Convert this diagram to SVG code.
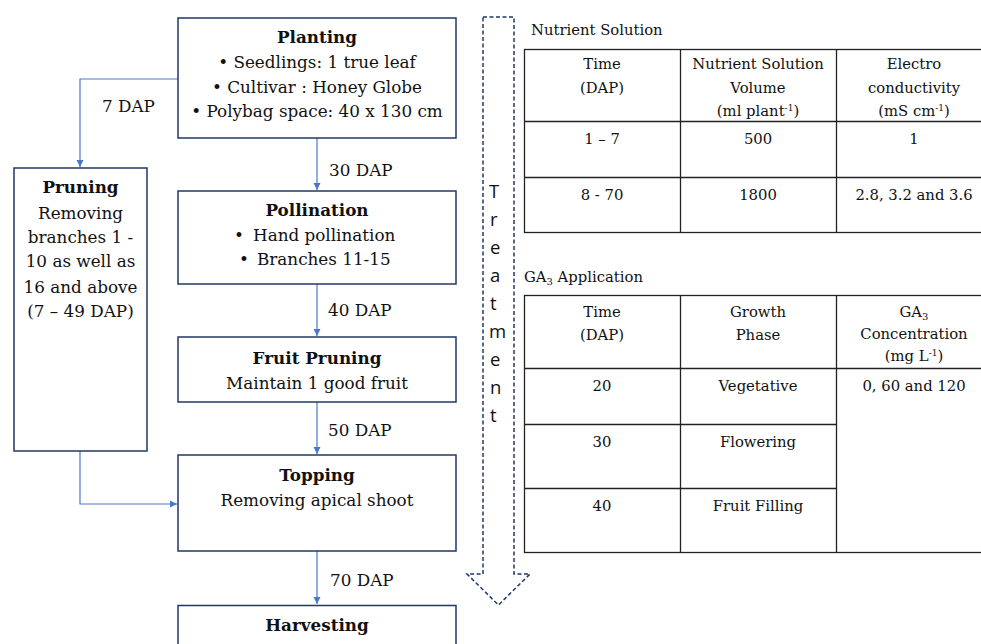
<svg xmlns="http://www.w3.org/2000/svg" width="981" height="644" viewBox="0 0 981 644">
<style>
.box{fill:#fff;stroke:#1f3864;stroke-width:1.5}
.conn{fill:none;stroke:#4a78c8;stroke-width:1.2}
.t{font-family:"DejaVu Serif","Liberation Serif",serif;font-size:16.8px;fill:#111;text-anchor:middle}
.tl{font-family:"DejaVu Serif","Liberation Serif",serif;font-size:16.8px;fill:#111}
.b{font-weight:bold}
.tab{font-family:"DejaVu Serif","Liberation Serif",serif;font-size:14.8px;fill:#111;text-anchor:middle}
.lab{font-family:"DejaVu Serif","Liberation Serif",serif;font-size:14.8px;fill:#111}
.grid{fill:none;stroke:#222;stroke-width:1.3}
.tr{font-family:"Open Sans","Liberation Sans",sans-serif;font-size:18.5px;fill:#111}
</style>
<defs>
<marker id="ah" markerWidth="8" markerHeight="8" refX="7" refY="4" orient="auto" markerUnits="userSpaceOnUse">
<path d="M0,0.5 L7,4 L0,7.5 Z" fill="#4a78c8"/>
</marker>
</defs>

<g id="connectors">
<path class="conn" d="M178,79 H80 V167" marker-end="url(#ah)"/>
<path class="conn" d="M317,138 V190" marker-end="url(#ah)"/>
<path class="conn" d="M317,284 V336" marker-end="url(#ah)"/>
<path class="conn" d="M317,402 V454" marker-end="url(#ah)"/>
<path class="conn" d="M80,451 V504 H177" marker-end="url(#ah)"/>
<path class="conn" d="M317,551 V604" marker-end="url(#ah)"/>
<text class="tl" x="102" y="112">7 DAP</text>
<text class="tl" x="329" y="176">30 DAP</text>
<text class="tl" x="328" y="316">40 DAP</text>
<text class="tl" x="328" y="436">50 DAP</text>
<text class="tl" x="330" y="586">70 DAP</text>
</g>

<g id="planting">
<rect class="box" x="178" y="18" width="278" height="120"/>
<text class="t b" x="317" y="43">Planting</text>
<text class="t" x="317" y="68">• Seedlings: 1 true leaf</text>
<text class="t" x="317" y="93">• Cultivar : Honey Globe</text>
<text class="t" x="317" y="117">• Polybag space: 40 x 130 cm</text>
</g>

<g id="pruning">
<rect class="box" x="14" y="168" width="133" height="283"/>
<text class="t b" x="80.5" y="193">Pruning</text>
<text class="t" x="80.5" y="219">Removing</text>
<text class="t" x="80.5" y="243">branches 1 -</text>
<text class="t" x="80.5" y="267">10 as well as</text>
<text class="t" x="80.5" y="293">16 and above</text>
<text class="t" x="80.5" y="317">(7 – 49 DAP)</text>
</g>

<g id="pollination">
<rect class="box" x="178" y="191" width="278" height="93"/>
<text class="t b" x="317" y="216">Pollination</text>
<text class="tl" x="234" y="241">•</text>
<text class="tl" x="253" y="241">Hand pollination</text>
<text class="tl" x="239" y="265">•</text>
<text class="tl" x="257" y="265">Branches 11-15</text>
</g>

<g id="fruit-pruning">
<rect class="box" x="178" y="337" width="278" height="65"/>
<text class="t b" x="317" y="364">Fruit Pruning</text>
<text class="t" x="317" y="389">Maintain 1 good fruit</text>
</g>

<g id="topping">
<rect class="box" x="178" y="455" width="278" height="96"/>
<text class="t b" x="317" y="481">Topping</text>
<text class="t" x="317" y="506">Removing apical shoot</text>
</g>

<g id="harvesting">
<rect class="box" x="178" y="605.5" width="278" height="60"/>
<text class="t b" x="317" y="631">Harvesting</text>
</g>

<g id="treatment">
<path d="M483,17 H514 V574 H530 L498.5,605 L467,574 H483 Z" fill="none" stroke="#1f3864" stroke-width="1.5" stroke-dasharray="4,2.5"/>
<text class="tr" x="489" y="198">T</text>
<text class="tr" x="490" y="226">r</text>
<text class="tr" x="490" y="254">e</text>
<text class="tr" x="490" y="282">a</text>
<text class="tr" x="490" y="310">t</text>
<text class="tr" x="489" y="338">m</text>
<text class="tr" x="490" y="366">e</text>
<text class="tr" x="490" y="394">n</text>
<text class="tr" x="490" y="422">t</text>
</g>

<g id="nutrient-table">
<text class="lab" x="531" y="35">Nutrient Solution</text>
<rect class="grid" x="524.5" y="49.5" width="470" height="183"/>
<line class="grid" x1="524.5" y1="121.5" x2="995" y2="121.5"/>
<line class="grid" x1="524.5" y1="177.5" x2="995" y2="177.5"/>
<line class="grid" x1="680.5" y1="49.5" x2="680.5" y2="232.5"/>
<line class="grid" x1="836.5" y1="49.5" x2="836.5" y2="232.5"/>
<text class="tab" x="602" y="69">Time</text>
<text class="tab" x="602" y="93">(DAP)</text>
<text class="tab" x="758" y="69">Nutrient Solution</text>
<text class="tab" x="758" y="93">Volume</text>
<text class="tab" x="758" y="116">(ml plant<tspan dy="-5" font-size="9">-1</tspan><tspan dy="5">)</tspan></text>
<text class="tab" x="914" y="69">Electro</text>
<text class="tab" x="914" y="93">conductivity</text>
<text class="tab" x="914" y="116">(mS cm<tspan dy="-5" font-size="9">-1</tspan><tspan dy="5">)</tspan></text>
<text class="tab" x="602" y="144">1 – 7</text>
<text class="tab" x="758" y="144">500</text>
<text class="tab" x="914" y="144">1</text>
<text class="tab" x="602" y="200">8 - 70</text>
<text class="tab" x="758" y="200">1800</text>
<text class="tab" x="914" y="200">2.8, 3.2 and 3.6</text>
</g>

<g id="ga3-table">
<text class="lab" x="524" y="282">GA<tspan dy="3" font-size="10">3</tspan><tspan dy="-3"> Application</tspan></text>
<rect class="grid" x="524.5" y="295.5" width="470" height="257"/>
<line class="grid" x1="524.5" y1="368.5" x2="995" y2="368.5"/>
<line class="grid" x1="524.5" y1="424.5" x2="836.5" y2="424.5"/>
<line class="grid" x1="524.5" y1="488.5" x2="836.5" y2="488.5"/>
<line class="grid" x1="680.5" y1="295.5" x2="680.5" y2="552.5"/>
<line class="grid" x1="836.5" y1="295.5" x2="836.5" y2="552.5"/>
<text class="tab" x="602" y="317">Time</text>
<text class="tab" x="602" y="340">(DAP)</text>
<text class="tab" x="758" y="317">Growth</text>
<text class="tab" x="758" y="340">Phase</text>
<text class="tab" x="914" y="317">GA<tspan dy="3" font-size="10">3</tspan></text>
<text class="tab" x="914" y="339">Concentration</text>
<text class="tab" x="914" y="361">(mg L<tspan dy="-5" font-size="9">-1</tspan><tspan dy="5">)</tspan></text>
<text class="tab" x="602" y="391">20</text>
<text class="tab" x="758" y="391">Vegetative</text>
<text class="tab" x="914" y="391">0, 60 and 120</text>
<text class="tab" x="602" y="447">30</text>
<text class="tab" x="758" y="447">Flowering</text>
<text class="tab" x="602" y="511">40</text>
<text class="tab" x="758" y="511">Fruit Filling</text>
</g>
</svg>
